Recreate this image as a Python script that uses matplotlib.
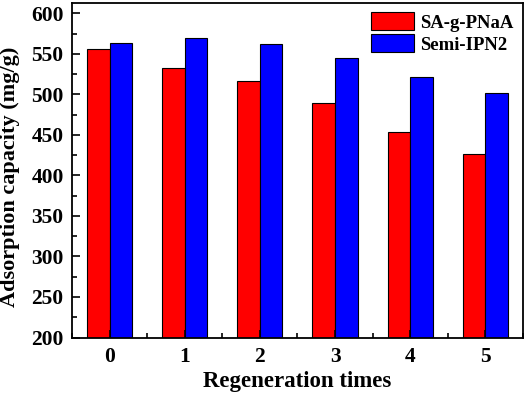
import numpy as np
import matplotlib.pyplot as plt
from matplotlib.ticker import MultipleLocator

plt.rcParams['font.family'] = ['Liberation Serif', 'DejaVu Serif']
plt.rcParams['font.weight'] = 'bold'

# data
times = ['0', '1', '2', '3', '4', '5']
sa_g_pnaa = [556, 532, 516, 489, 454, 427]
semi_ipn2 = [563, 569, 562, 545, 522, 502]

x = np.arange(len(times))
w = 0.3

fig = plt.figure(figsize=(5.26, 3.98), dpi=100)
ax = fig.add_axes([0.137, 0.152, 0.857, 0.841])

ax.bar(x - w / 2, sa_g_pnaa, w, color='#ff0000', edgecolor='black', linewidth=0.8, label='SA-g-PNaA')
ax.bar(x + w / 2, semi_ipn2, w, color='#0000ff', edgecolor='black', linewidth=0.8, label='Semi-IPN2')

ax.set_xlim(-0.5, 5.5)
ax.set_ylim(200, 613)
ax.set_xticks(x)
ax.set_xticklabels(times)
ax.xaxis.set_minor_locator(MultipleLocator(0.5))
ax.yaxis.set_major_locator(MultipleLocator(50))
ax.yaxis.set_minor_locator(MultipleLocator(25))
ax.tick_params(which='both', direction='in', labelsize=15.5, width=1.2)
ax.tick_params(which='major', length=6)
ax.tick_params(axis='y', which='major', pad=6)
ax.tick_params(axis='x', which='major', pad=7)
ax.tick_params(which='minor', length=3.5)
for s in ax.spines.values():
    s.set_linewidth(1.3)

ax.set_xlabel('Regeneration times', fontsize=16.5, fontweight='bold', labelpad=3)
ax.set_ylabel('Adsorption capacity (mg/g)', fontsize=16, fontweight='bold')
ax.yaxis.set_label_coords(-0.115, 0.479)

ax.legend(loc='upper right', frameon=False, fontsize=13.5, handlelength=2.3, handleheight=1.1,
          handletextpad=0.3, labelspacing=0.15, borderaxespad=0.1)

fig.savefig('out.png', dpi=100)
